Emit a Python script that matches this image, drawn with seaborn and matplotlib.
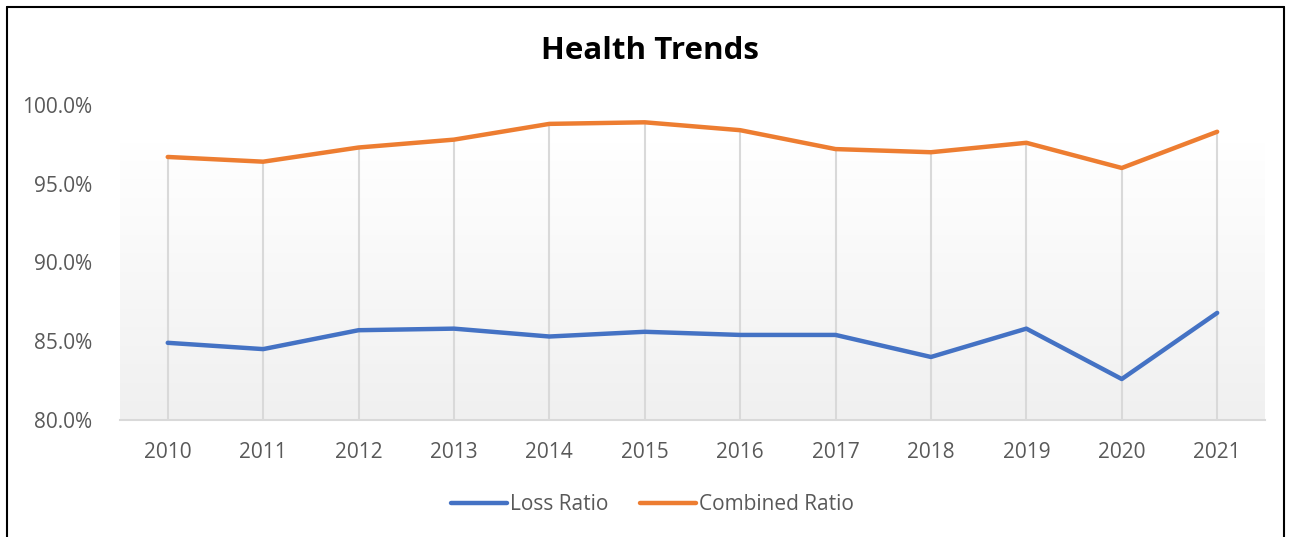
import numpy as np
import pandas as pd
import matplotlib.pyplot as plt
import seaborn as sns
from matplotlib.lines import Line2D
from matplotlib.ticker import FuncFormatter

years = ["2010", "2011", "2012", "2013", "2014", "2015",
         "2016", "2017", "2018", "2019", "2020", "2021"]
loss_ratio = [84.9, 84.5, 85.7, 85.8, 85.3, 85.6, 85.4, 85.4, 84.0, 85.8, 82.6, 86.8]
combined_ratio = [96.7, 96.4, 97.3, 97.8, 98.8, 98.9, 98.4, 97.2, 97.0, 97.6, 96.0, 98.3]
series_names = ["Loss Ratio", "Combined Ratio"]
colors = ["#4472C4", "#ED7D31"]

df = pd.DataFrame({
    "year": years * 2,
    "value": loss_ratio + combined_ratio,
    "series": [series_names[0]] * len(years) + [series_names[1]] * len(years),
})

sns.set_style("white")
plt.rcParams["font.family"] = ["Open Sans", "DejaVu Sans"]

fig = plt.figure(figsize=(12.92, 5.37), dpi=100)
ax = fig.add_axes([0.0929, 0.2179, 0.8861, 0.5866])

# gradient fill of the plot area (white at top, light gray at bottom)
grad = np.linspace(1.0, 0.0, 256).reshape(-1, 1)
ax.imshow(grad, extent=(-0.5, len(years) - 0.5, 80, 97.65), aspect="auto",
          cmap=plt.matplotlib.colors.LinearSegmentedColormap.from_list(
              "bg", ["#F0F0F0", "#FFFFFF"]),
          vmin=0, vmax=1, zorder=0)

# drop lines from the highest series down to the axis
x_idx = np.arange(len(years))
ax.vlines(x_idx, 80, np.maximum(loss_ratio, combined_ratio),
          colors="#D9D9D9", linewidth=1.5, zorder=1)

sns.lineplot(data=df, x="year", y="value", hue="series", palette=colors,
             linewidth=3.2, ax=ax, zorder=3, sort=False)
for ln in ax.get_lines():
    ln.set_solid_capstyle("round")

ax.set_xlim(-0.5, len(years) - 0.5)
ax.set_ylim(80, 100)
ax.set_yticks([80, 85, 90, 95, 100])
ax.yaxis.set_major_formatter(FuncFormatter(lambda v, p: f"{v:.1f}%"))
ax.set_xlabel("")
ax.set_ylabel("")
for s in ["top", "right", "left"]:
    ax.spines[s].set_visible(False)
ax.spines["bottom"].set_color("#D9D9D9")
ax.spines["bottom"].set_linewidth(1.5)
ax.tick_params(axis="both", length=0, labelsize=15, labelcolor="#595959")
ax.tick_params(axis="x", pad=16)
ax.tick_params(axis="y", pad=20)

fig.text(0.503, 0.905, "Health Trends", fontsize=22.5, fontweight="bold",
         color="black", ha="center", va="center")

handles = [Line2D([0], [0], color=c, lw=3.2, solid_capstyle="round") for c in colors]
ax.get_legend().remove()
fig.legend(handles, series_names, loc="center", bbox_to_anchor=(0.505, 0.06),
           ncol=2, frameon=False, fontsize=15, handlelength=2.7,
           handletextpad=0.15, columnspacing=1.5, labelcolor="#595959")

# chart border (left, top, right)
for xs, ys in [([0.0055, 0.0055], [0, 0.987]),
               ([0.0055, 0.994], [0.987, 0.987]),
               ([0.994, 0.994], [0, 0.987])]:
    fig.add_artist(Line2D(xs, ys, color="black", lw=1.5, transform=fig.transFigure))

plt.savefig("out.png", dpi=100)
